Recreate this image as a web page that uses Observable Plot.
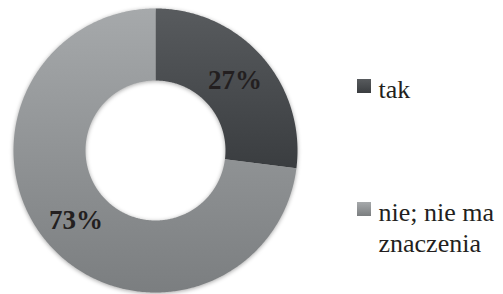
<!DOCTYPE html>
<html>
<head>
<meta charset="utf-8">
<script src="https://cdn.jsdelivr.net/npm/d3@7"></script>
<script src="https://cdn.jsdelivr.net/npm/@observablehq/plot@0.6"></script>
<style>
  html, body { margin: 0; padding: 0; background: #fff; }
  #chart { width: 503px; height: 294px; }
  #chart svg g[aria-label="line"] { filter: drop-shadow(0px 1px 2px rgba(0,0,0,0.35)); }
</style>
</head>
<body>
<div id="chart"></div>
<script>
// ---- data ----
const categories = ["tak", "nie; nie ma znaczenia"];
const values = [27, 73];
const valueLabels = ["27%", "73%"];

// ---- layout ----
const W = 503, H = 294;
const cx = 155, cy = 150, rOuter = 142, rInner = 70;
const legendX = 357, swatch = 14;
const legendRowTop = [79, 202];
const serif = "'Liberation Serif', 'Times New Roman', Times, serif";

const rows = categories.map((c, i) => ({ category: c, value: values[i], label: valueLabels[i] }));
const arcs = d3.pie().sort(null).value(d => d.value)(rows);

// ring geometry (arc outlines sampled for drawing)
const pt = (a, r) => [cx + r * Math.sin(a), cy - r * Math.cos(a)];
const ringPts = [];
arcs.forEach(a => {
  const n = Math.max(2, Math.ceil((a.endAngle - a.startAngle) / 0.01));
  for (let k = 0; k <= n; k++) {
    const t = a.startAngle + (a.endAngle - a.startAngle) * k / n;
    const [x, y] = pt(t, rOuter);
    ringPts.push({ category: a.data.category, x, y });
  }
  for (let k = n; k >= 0; k--) {
    const t = a.startAngle + (a.endAngle - a.startAngle) * k / n;
    const [x, y] = pt(t, rInner);
    ringPts.push({ category: a.data.category, x, y });
  }
});

const labelPts = arcs.map(a => {
  const m = (a.startAngle + a.endAngle) / 2;
  const [x, y] = pt(m, (rOuter + rInner) / 2);
  return { label: a.data.label, x, y };
});

const legendRows = categories.map((c, i) => ({ category: c, top: legendRowTop[i] }));

const defs = () => {
  const d = d3.create("svg:defs");
  const grads = [
    { id: "gTak", c0: "#585b5e", c1: "#3a3d40" },
    { id: "gNie", c0: "#a6a9ab", c1: "#7b7e80" }
  ];
  grads.forEach(g => {
    const lg = d.append("linearGradient").attr("id", g.id)
      .attr("x1", 0).attr("y1", 0).attr("x2", 0).attr("y2", 1);
    lg.append("stop").attr("offset", "0%").attr("stop-color", g.c0);
    lg.append("stop").attr("offset", "100%").attr("stop-color", g.c1);
  });
  return d.node();
};

const chart = Plot.plot({
  width: W,
  height: H,
  margin: 0,
  x: { domain: [0, W], range: [0, W], axis: null },
  y: { domain: [0, H], range: [0, H], axis: null },
  color: { domain: categories, range: ["url(#gTak)", "url(#gNie)"] },
  style: { background: "#fff", fontFamily: serif },
  marks: [
    defs,
    Plot.line(ringPts, { x: "x", y: "y", z: "category", fill: "category", stroke: null, curve: "linear" }),
    Plot.text(labelPts, {
      x: "x", y: "y", text: "label",
      fontFamily: serif, fontWeight: "bold", fontSize: 27,
      fill: "#231f20"
    }),
    Plot.rect(legendRows, {
      x1: () => legendX, x2: () => legendX + swatch,
      y1: "top", y2: d => d.top + swatch,
      fill: "category"
    }),
    Plot.text(legendRows, {
      x: () => legendX + swatch + 7, y: d => d.top - 3.5,
      text: "category",
      textAnchor: "start", lineAnchor: "top",
      lineWidth: 6, lineHeight: 1.2,
      fontFamily: serif, fontSize: 26,
      fill: "#231f20"
    })
  ]
});

document.getElementById("chart").appendChild(chart);
</script>
</body>
</html>
